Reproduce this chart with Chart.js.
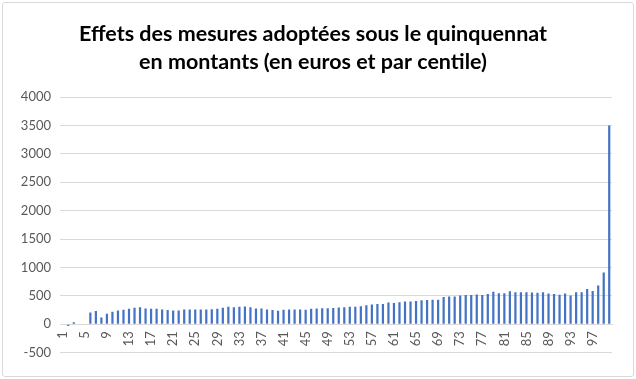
<!DOCTYPE html>
<html>
<head>
<meta charset="utf-8">
<script src="https://cdn.jsdelivr.net/npm/chart.js@4"></script>
<style>
  html, body { margin: 0; padding: 0; background: #ffffff; }
  #wrap { position: relative; width: 636px; height: 379px; }
  #frame { position: absolute; left: 2px; top: 2px; width: 630px; height: 373px; border: 1px solid #d9d9d9; border-radius: 3px; pointer-events: none; }
  canvas { position: absolute; left: 0; top: 0; }
</style>
</head>
<body>
<div id="wrap">
  <canvas id="c" width="636" height="379"></canvas>
  <div id="frame"></div>
</div>
<script>
const titleLines = ['Effets des mesures adoptées sous le quinquennat', 'en montants (en euros et par centile)'];

const centiles = ['1','2','3','4','5','6','7','8','9','10',
  '11','12','13','14','15','16','17','18','19','20',
  '21','22','23','24','25','26','27','28','29','30',
  '31','32','33','34','35','36','37','38','39','40',
  '41','42','43','44','45','46','47','48','49','50',
  '51','52','53','54','55','56','57','58','59','60',
  '61','62','63','64','65','66','67','68','69','70',
  '71','72','73','74','75','76','77','78','79','80',
  '81','82','83','84','85','86','87','88','89','90',
  '91','92','93','94','95','96','97','98','99','100'];

const montants = [0, -35, 35, 0, -10, 207, 230, 115, 184, 218,
  241, 253, 270, 287, 299, 276, 270, 270, 259, 247,
  241, 241, 259, 259, 259, 259, 259, 264, 270, 287,
  305, 299, 305, 310, 299, 276, 276, 259, 247, 236,
  253, 259, 259, 259, 253, 270, 276, 282, 282, 285,
  293, 299, 305, 305, 316, 333, 345, 357, 357, 380,
  374, 385, 397, 397, 408, 420, 426, 431, 431, 477,
  489, 489, 506, 512, 512, 523, 512, 529, 569, 546,
  546, 581, 563, 563, 563, 558, 552, 563, 540, 529,
  518, 540, 506, 563, 563, 621, 586, 679, 909, 3500];

const yMin = -500, yMax = 4000, yStep = 500;
const labelEvery = 4;

new Chart(document.getElementById('c'), {
  type: 'bar',
  data: {
    labels: centiles,
    datasets: [{
      data: montants,
      backgroundColor: '#4472C4',
      borderWidth: 0,
      categoryPercentage: 1.0,
      barPercentage: 0.4
    }]
  },
  options: {
    responsive: false,
    animation: false,
    events: [],
    layout: { padding: { left: 14, right: 24, top: 0, bottom: 26.5 } },
    plugins: {
      legend: { display: false },
      tooltip: { enabled: false },
      title: {
        display: true,
        text: titleLines,
        color: '#000000',
        font: { family: 'Lato', size: 21.5, weight: 'bold', lineHeight: 1.26 },
        padding: { top: 21, bottom: 22 }
      }
    },
    scales: {
      x: {
        position: { y: 0 },
        grid: { display: false, drawTicks: false },
        border: { display: true, color: '#d9d9d9', width: 1 },
        ticks: {
          autoSkip: false,
          minRotation: 90,
          maxRotation: 90,
          padding: 7,
          color: '#595959',
          font: { family: 'Lato', size: 13 },
          callback: function (value, index) {
            return index % labelEvery === 0 ? centiles[index] : '';
          }
        }
      },
      y: {
        min: yMin,
        max: yMax,
        afterFit: function (scale) { scale.width = 46; },
        ticks: {
          stepSize: yStep,
          padding: 9,
          color: '#595959',
          font: { family: 'Lato', size: 13 },
          callback: function (value) { return String(value); }
        },
        grid: { color: '#d9d9d9', drawTicks: false },
        border: { display: false }
      }
    }
  }
});
</script>
</body>
</html>
